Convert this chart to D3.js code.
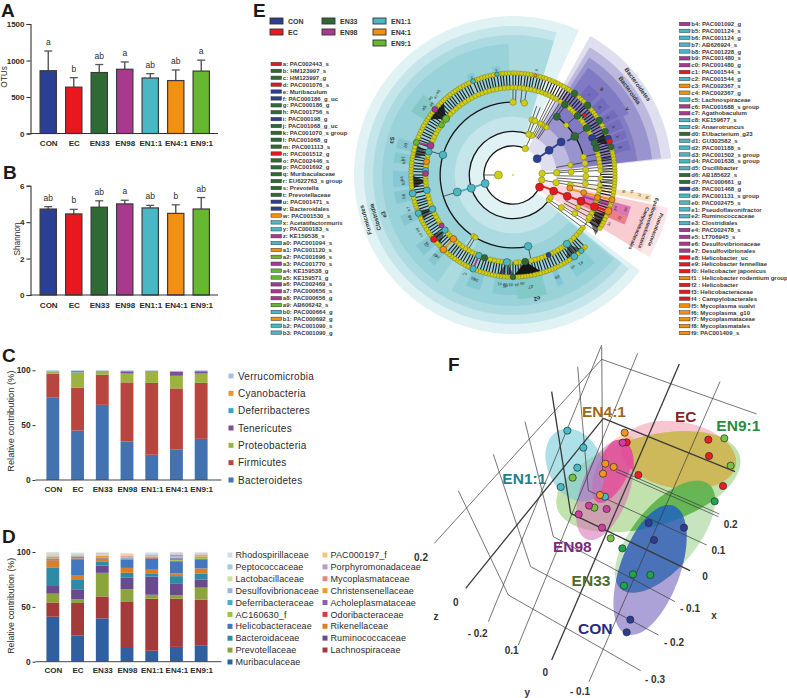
<!DOCTYPE html>
<html><head><meta charset="utf-8">
<script src="https://d3js.org/d3.v7.min.js"></script>
<style>html,body{margin:0;background:#fff}svg{display:block}text{font-family:"Liberation Sans",Arial,sans-serif;fill:#2b2b2b}</style>
</head><body><svg id="c" width="787" height="698"></svg>
<script>
// ---------- shared
const groups=["CON","EC","EN33","EN98","EN1:1","EN4:1","EN9:1"];
const groupColors=["#2b3f94","#e8181c","#2e6b34","#a8398f","#4ab8c4","#f4900f","#66b82e"];
// ---------- A, B
const otus=[860,635,835,880,760,725,855];
const otusErr=[1130,765,945,980,820,870,1005];
const otusLetters=["a","b","ab","a","ab","ab","a"];
const otusTicks=[0,500,1000,1500];
const shannon=[4.72,4.45,4.82,5.0,4.78,4.48,4.72];
const shannonErr=[4.85,4.7,5.17,5.2,4.92,4.95,5.35];
const shannonLetters=["ab","b","ab","a","ab","b","ab"];
const shannonTicks=[0,2,4,6];
// ---------- C
const phyla=["Bacteroidetes","Firmicutes","Proteobacteria","Tenericutes","Deferribacteres","Cyanobacteria","Verrucomicrobia"];
const phylaColors=["#4272b0","#b9453f","#9cb33f","#7d4e9f","#35a5c4","#ea9532","#a9c0e5"];
const phylaCON=[75,22,1.5,.3,.2,.1,.9];
const phylaEC=[45,39,14,.2,1.3,.1,.4];
const phylaEN33=[68.5,27.5,2.5,.5,.2,.1,.7];
const phylaEN98=[35,54,8,2,.5,.1,.4];
const phylaEN11=[23,65.5,10,.3,.7,.1,.4];
const phylaEN41=[28,55.5,11.5,3.5,.5,.1,.4];
const phylaEN91=[37.5,51,8.5,1.5,1,.1,.4];
const phylaRows=[phylaCON,phylaEC,phylaEN33,phylaEN98,phylaEN11,phylaEN41,phylaEN91];
// ---------- D
const families=["Muribaculaceae","Lachnospiraceae","Prevotellaceae","Ruminococcaceae","Bacteroidaceae","Rikenellaceae","Helicobacteraceae","Odoribacteraceae","AC160630_f","Acholeplasmataceae","Deferribacteraceae","Christensenellaceae","Desulfovibrionaceae","Mycoplasmataceae","Lactobacillaceae","Porphyromonadaceae","Peptococcaceae","PAC000197_f","Rhodospirillaceae"];
const familyColors=["#2f5f9f","#a53a3a","#8ba53c","#6a4a8f","#2e8ba5","#d97f29","#4377bf","#cc4040","#9ac33f","#8a5fb5","#3fb0cc","#ee9a2e","#9ab5dd","#e08a85","#cfe09a","#b89bd0","#97cfdf","#f5c27f","#d0dbec"];
const famCON=[41,13,8,7,17,6.5,.8,.3,.2,.3,.2,1.5,.3,.2,1.6,.2,.4,.5,.8];
const famEC=[24,29.5,3.5,8.5,9,4.5,14,1,.2,.3,1.5,.3,.3,.2,.2,.3,.5,.3,1.3];
const famEN33=[39.5,20,21.5,6.5,4,2.3,.4,.4,.2,.3,.3,1,.3,.3,.5,.2,.4,1.2,.4];
const famEN98=[12.5,42.5,11,10.5,4.5,4.5,7.5,.5,.3,.4,.4,.6,.5,.8,.3,.2,.6,.7,.6];
const famEN11=[10,47.5,3.5,16.5,2.5,4.5,9.5,.5,.2,.4,.5,.5,.8,.4,.2,.2,.6,.5,.8];
const famEN41=[13.5,44,3,11,6.5,2.5,11,.6,.8,1.4,.3,.6,1,1.5,.3,.2,.5,.3,.9];
const famEN91=[15,41.5,11,7.5,5.5,4.5,8,.7,.9,.5,.5,.6,.4,1,.3,.2,.5,.6,.6];
const famRows=[famCON,famEC,famEN33,famEN98,famEN11,famEN41,famEN91];
const legendD1=["Rhodospirillaceae","Peptococcaceae","Lactobacillaceae","Desulfovibrionaceae","Deferribacteraceae","AC160630_f","Helicobacteraceae","Bacteroidaceae","Prevotellaceae","Muribaculaceae"];
const legendD2=["PAC000197_f","Porphyromonadaceae","Mycoplasmataceae","Christensenellaceae","Acholeplasmataceae","Odoribacteraceae","Rikenellaceae","Ruminococcaceae","Lachnospiraceae"];
// ---------- E legend
const cladeLeft=[["a: PAC002443_s",1],["b: HM123997_s",2],["c: HM123997_g",2],["d: PAC001076_s",1],["e: Muribaculum",0],["f: PAC000186_g_uc",0],["g: PAC000186_g",2],["h: PAC001756_s",2],["i: PAC000198_g",0],["j: PAC001068_g_uc",2],["k: PAC001070_s group",2],["l: PAC001068_g",2],["m: PAC001113_s",2],["n: PAC001512_g",1],["o: PAC002446_s",2],["p: PAC001692_g",2],["q: Muribaculaceae",2],["r: EU622763_s group",2],["s: Prevotella",2],["t: Prevotellaceae",2],["u: PAC001471_s",0],["v: Bacteroidales",0],["w: PAC001530_s",5],["x: Acetatifactormuris",4],["y: PAC000183_s",4],["z: KE159538_s",3],["a0: PAC001094_s",4],["a1: PAC001120_s",5],["a2: PAC001696_s",6],["a3: PAC001770_s",3],["a4: KE159538_g",6],["a5: KE159571_g",6],["a6: PAC002469_s",3],["a7: PAC000656_s",3],["a8: PAC000656_g",3],["a9: AB606242_s",6],["b0: PAC000664_g",4],["b1: PAC000692_g",5],["b2: PAC001090_s",4],["b3: PAC001090_g",4]];
const cladeRight=[["b4: PAC001092_g",3],["b5: PAC001124_s",4],["b6: PAC001124_g",4],["b7: AB626924_s",4],["b8: PAC001228_g",4],["b9: PAC001480_s",3],["c0: PAC001480_g",3],["c1: PAC001544_s",1],["c2: PAC001544_g",4],["c3: PAC002367_s",5],["c4: PAC002367_g",5],["c5: Lachnospiraceae",4],["c6: PAC001688_s group",3],["c7: Agathobaculum",3],["c8: KE159677_s",4],["c9: Anaerotruncus",4],["d0: EUbacterium_g23",2],["d1: GU302582_s",4],["d2: PAC001188_s",4],["d3: PAC001502_s group",4],["d4: PAC001638_s group",4],["d5: Oscillibacter",4],["d6: AB185622_s",2],["d7: PAC000661_g",2],["d8: PAC001468_g",0],["d9: PAC001131_s group",4],["e0: PAC002475_s",4],["e1: Pseudoflavonifractor",4],["e2: Ruminococcaceae",4],["e3: Clostridiales",4],["e4: PAC002478_s",3],["e5: LT706945_s",3],["e6: Desulfovibrionaceae",3],["e7: Desulfovibrionales",3],["e8: Helicobacter_uc",1],["e9: Helicobacter fennelliae",1],["f0: Helicobacter japonicus",1],["f1 : Helicobacter rodentium group",5],["f2 : Helicobacter",1],["f3: Helicobacteraceae",1],["f4 : Campylobacterales",1],["f5: Mycoplasma sualvi",5],["f6: Mycoplasma_g10",5],["f7: Mycoplasmataceae",5],["f8: Mycoplasmatales",5],["f9: PAC001409_s",5]];
// ---------- E cladogram: [start angle, end angle, inner level, outer radius, colour, opacity]
const wedges=[
[127,384.5,2,159,"#35a7b5",.15],[129,377,3,149,"#35a7b5",.17],[129,377,4,140,"#35a7b5",.17],[215,358,5,131,"#35a7b5",.16],[130,208,5,131,"#35a7b5",.16],
[29,84,2,159,"#4a3fa8",.17],[31,83.5,3,149,"#4a3fa8",.24],[33,83.5,4,140,"#4a3fa8",.3],[35,62,5,131,"#4a3fa8",.3],[62,83.5,5,125,"#4a3fa8",.28],
[102,121,2,159,"#f0808f",.2],[102,121,3,149,"#f0808f",.16],[102,121,4,140,"#f0808f",.12],[98,101,4,140,"#f5b65a",.4],[105,110,5,122,"#c72f9c",.55],[110,114,5,122,"#e83040",.5]];
// [start angle, end angle, inner radius, outer radius, colour, label]
const cells=[[302,312,103,120,"#3aa98f","a5"],[283,288,103,120,"#3a9fc0","b0"],[276,281,103,120,"#3fae9f","b1"],[264,272,103,120,"#4a9fd0","b4"],[256,262,103,120,"#3a9fb5","b6"],[245,250,103,120,"#3a9fb5","b8"],[228,234,103,120,"#3a9fb5","c2"],[221,225,103,120,"#3a9fb5","c4"],[196,203,103,120,"#3aa9b5","d8"],[178,190,103,120,"#3ab0bb","d5"],[164,178,103,124,"#2fae8f","d7"],[155,158,103,120,"#2f9fd0","d9"],[137,148,103,120,"#3ab0bb","e1"],[335,339,103,110,"#3aa9c0","y"],[349,353,103,110,"#3aa9c0","x"],
[40,47,103,118,"#3f3fb0","r"],[49,55,103,118,"#3f3fb0","q"],[57,61,103,120,"#3f3fb0","p"],[62,67,103,120,"#3f3fb0","k"],[68,72,103,120,"#3f3fb0","h"],[73,78,103,120,"#3f3fb0","g"]];
// wedge captions: [text, angle, radius, font size]
const wedgeCaptions=[["Bacteroidetes",54,154,6],["Bacteroidia",54,144,6],["v",60,132,6],["s",46,124,6],["Firmicutes",253,154,6],["Clostridia",253,144,6],["e3",253,135,6],["c5",286,126,6],["e2",169,126,6],["Proteobacteria",111,153,5],["Epsilonproteobacteria",109.5,144,5],["Campylobacterales",113,137,5]];
// tiny leaf captions near the outer ring
const leafCaptions=[["a6",313,113],["a7",315.5,110],["a8",318,112],["a9",311,108],["b2",277,110],["b3",266,110],["b7",252,110],["b9",240,110],["c0",237,110],["c1",231.5,110],["c3",224,112],["c7",206,110],["c8",201,111],["d1",187,110],["d2",184,110],["d3",181,110],["d4",178,110],["d6",175,109],["e0",147,110],["f5",98,120],["f6",98.5,112],["f7",99,128],["f8",99.5,136],["e4",108,108],["e6",107,118],["c6",117,108],["f2",112,115],["w",12.7,108]];
const outerDotAngles=[31.5,33.2,35,37,38.6,40.5,42.2,44,45.8,47,49,50.6,52.3,54,55.7,57.7,59.4,61,63,64.7,66.4,68.9,70.6,72.4,74,75.8,77.5,79.2,81,82.8,84.4,86.2,88,89.6,91.4,93,94.8,96.5,98.2,100,101.8,104,105.8,107.6,109.2,110.7,112.5,114.2,116,118,119.6,121.5,135,136.8,138.4,140.3,143,145,146.7,148.6,150.2,152,154,155.8,157.6,159.4,161,163,164.6,166.4,168,170,171.8,173.4,175,176.8,178.4,180,181.8,183.4,185.2,187,188.6,190.4,192,194,195.6,197.4,199,201,203,204.8,206.4,208.2,210,211.6,213.4,215,217,218.6,220.4,223,224.8,226.6,228.2,231,232.8,234.6,236.2,238,240,241.6,243.4,245,246.8,248,250,251.8,253.4,255,257,259.6,261.4,263.2,265,266.6,268.4,270,272,273.6,275.4,277,279,280.6,282.4,284,286,288.6,290.4,292,294,295.6,297.4,299,301,302.8,304.4,306.2,308,310,311.8,313.4,315.2,317,318.6,320.4,322,324,325.6,327.4,329,331,332.8,334.4,337,338.8,340.4,342.2,344,345.6,347.4,349,351,352.8,354.4,356.2,358,360,361.6,363.4,365,367,368.6,370.4,372,374,375.6,377.4,379,381,382.8,384.6,386.2,388,389.8];
const innerDotAngles=[33,35.5,38,40.5,43,45,50,52.5,55,60,62.5,67,70,74.5,77,79.5,82,84.5,87,92,96.5,100,103,106.5,109,113.5,116,118.5,121,127,129,131,133.5,136,139,144.5,147,149.5,152,154,158.5,161,163.5,165.5,168,176,178,182,186,188,190,192.5,195,201,205.5,208,210.5,213,215.5,218,220.5,226,228.5,236.5,239,241.5,244,249.5,252,254.5,257,263,265.5,267.5,269,275,276,281,283,291,293.5,296,298.5,301,303,307,312,314.5,317,319.5,322,324.5,327,329.5,332,334.5,337,339.5,342,344.5,347,349.5,352,354.5,357,359.5,362,364.5,367,369.5,372,374.5,377,379.5,382,384.5,387,389.5];
// tree arcs: [start angle, end angle, level]
const treeArcs=[[114,385,2],[127,381,3],[168,360,5],[37,76,5]];
// extra branches: [angle A, level A, angle B, level B]
const branches=[[270,1,270,2],[253,2,253,4],[253,4,253,5],[25,2,25,3],[22,3,22,5],[19,3,19,5],[360,5,360,6],[9,5,9,6],[2,5,2,6],[6,5,6,6],[87,2,87,7],[100,2,100,7],[80,3,80,7],[85,3,85,7],[91,3,91,7],[94,3,94,7],[97,3,97,7],[75.6,5,76,7],[124,3,124,7],[127,3,127,6],[122,4,122,7],[119,4,119,7],[116,4,116,7],[58,5,58,7],[47,6,47,7],[37,5,37,7],[47,5,47,6],[168,5,168,6],[213,5,213,6],[211,5,211,6],[286,5,286,6],[142,6,142,7],[203,6,203,7],[231,6,231,7],[223,6,223,7],[247,6,247,7],[260,6,260,7],[35,3,35,7],[33,3,33,7],[30,3,30,6],[28,3,28,6],[26,3,26,6]];
// [node angle, first leaf angle, last leaf angle, opacity]
const fans=[[172,163,180,1],[310,303,317,.9],[284,279,288,.6],[266,262,270,.8],[247,243,250,.6],[231,226,234,.6],[184,179,189,.6],[142,137,148,.6],[68,65,73,.8],[115,112,122,.7],[120,116,126,.6]];
// coloured nodes [angle, level, group, size]
const chainNodes=[[56,2,0,4],[55.7,3,0,4],[55.6,4,0,4],[58,5,2,4],[37,5,2,3.6],[57.5,6,2,3.6],[57.7,7,2,3.4],[64.7,7,2,3.2],[64.8,6,0,3.6],[68.9,7,0,3.2],[68.6,6,2,3.4],[72.3,6,2,3.4],[71,7,1,3],[74,7,2,3],[36.4,6,2,3.4],[37,7,2,3.4],[47,7,2,3.4],[47.5,6,2,3.4],[50,6.4,1,2],
[114.5,2,1,4],[111.6,3,1,4],[111.4,4,1,4],[111,5,1,4],[111.3,6,1,4],[110.7,7,5,3.6],[103,4,5,3],[104,5,5,3],[105,6,5,3],[104,7,5,3],
[253,2,4,4],[252.5,3,4,4],[253,4,4,4],[286,5,4,3.8],[289.6,6,3,3.4],[285.4,6,4,3.4],[288.6,7,6,3],[310,6,6,3.6],[305,6,6,3],[310,7,3,3],[278.7,6,5,3],[273,6,4,3],[271,6,3,3],[260,6,4,3.4],[259.6,7,4,3.4],[247,6,4,3.4],[248,7,4,3.2],[231,6,4,3.2],[231,7,1,3.2],[223,6,5,3.4],[223,7,5,3.4],[234.8,6,3,2.6],[203,6,4,3.2],[203,7,4,3.2],[199,6,2,3.2],[184,6,4,3.6],[180,7,2,2.8],[172,6,2,3.4],[156,6,0,2.6],[142,6,4,3.6],[143,7,4,3.4],[138,7,4,2.6],[168,5,4,3.8],[337,7,4,2.4],[351,7,4,2.2],[12.7,7,5,1.6]];
// yellow nodes on the trunk [angle, level, size]
const trunkNodes=[[270,1,4],[25,2,3.2],[87,2,3.2],[100,2,3.2],[25,3,3.2],[21,3,3],[87,3,3.2],[100,3,3.2],[19,4,3],[22,4,3],[87,4,3],[100,4,3],[75.6,5,3],[80.7,5,3],[86,5,3],[91,5,3],[96.7,5,3],[360,5,3.2],[9,5,3.2],[213,5,2.6],[211,5,2.6],[124,3,3],[121,3,2.8],[124,4,3],[122,5,3],[119,6,3],[80,4,2.6],[116,5,2.6],[47,5,2.6],[33,4,2.6],[35,4,2.6],[30,4,2.6],[28,4,2.6]];
const colouredLinks=[[56,2,55.6,4,0],[58,4.4,58,5,0],[253,2,253,4,4],[289.6,6,288.6,7,3],[231,6,234.8,6,4],[223,6,223,7,5],[203,6,203,7,3],[104,4,104,7,5],[111,2,111,7,1],[107,5,107,7,3],[272,6,270,6,4],[184,6,184,7,4]];
const topGroupPos=[[0,0],[0,1],[1,0],[1,1],[2,0],[2,1],[2,2]];
const topGroupOrder=[0,1,2,3,4,5,6];
// ---------- F: picture-plane coordinates of the oblique PCoA box
const gridLines=[[692,992,295,765,1],[745,885,362,680,1],[795,785,430,590,1],[840,692,482,520,2],[890,615,535,452,1],[925,530,618,395,1],[928,522,622,388,1],[975,395,580,235,2],[1040,222,575,58,1],[537,1025,930,125,1],[425,960,808,72,2],[325,915,683,40,1],[235,845,575,15,1],[73,610,575,58,1],[167,745,580,235,2],[295,765,145,452,1],[362,680,250,343,1],[430,590,345,245,1],[482,520,425,155,2],[535,452,503,80,1],[578,390,575,20,1]];
const gridLabels=[["0.2",33,651],["0",137,788],["z",78,828],["- 0.2",203,880],["0.1",305,930],["0",406,998],["y",352,1057],["- 0.1",510,1055],["- 0.3",735,1018],["- 0.2",792,908],["- 0.1",840,805],["x",912,825],["0",885,708],["0.1",925,630],["0.2",962,552]];
// [key, cx, cy, semi-major, semi-minor, rotation, colour, opacity]
const ellipses=[["EN9",715,425,285,135,-16,"#8ecb6a",.55],["EN33",765,590,205,95,-50,"#8ecb7e",.5],["CON",720,690,205,90,-70,"#7464bc",.6],["EN11",495,375,115,82,65,"#78ccd8",.6],["EC",805,345,175,100,10,"#ee8098",.45],["EN41",610,385,112,48,-65,"#f0b050",.4],["EN98",585,450,158,72,-70,"#d86bb4",.55]];
// overlap tints: [list of ellipses that must overlap, colour, opacity]
const overlaps=[[["EN9","EC"],"#cdb95a",1],[["EN9","EN33"],"#5fb24e",.9],[["EN33","CON"],"#4570b8",.95],[["EN9","CON"],"#4a86b8",.9],[["EN9","EN33","CON"],"#2a70ae",1],[["EC","EN98"],"#e34a9c",.85],[["EN41","EN98"],"#e0509e",.85],[["EN11","EN98"],"#a88bc8",.7]];
const scoresCON=[[716,549],[822,563],[732,600],[661,839],[650,877]];
const scoresEC=[[650,307],[895,299],[897,348],[685,405],[939,438]];
const scoresEN33=[[914,484],[637,625],[669,703],[721,705],[642,737]];
const scoresEN98=[[638,308],[537,497],[590,507],[506,523],[576,563]];
const scoresEN11=[[472,272],[520,323],[502,383],[452,441],[585,470]];
const scoresEN41=[[644,278],[586,371],[611,381],[579,401],[570,465]];
const scoresEN91=[[943,295],[962,377],[488,413],[553,503],[602,595]];
const scoreSets=[scoresEN91,scoresEN33,scoresCON,scoresEN11,scoresEC,scoresEN98,scoresEN41];
const scoreColors=["#79c142","#1fa64a","#2d3c96","#46bcc8","#ee1c25","#cc3fa0","#f7941d"];
const pcoaLabels=[["EN4:1",582,230,"#9a6a1a"],["EC",827,246,"#8b1f2a"],["EN9:1",985,274,"#2e8b3d"],["EN1:1",343,431,"#1f7f8c"],["EN98",487,636,"#7b2a7b"],["EN33",543,738,"#4f6a2e"],["CON",556,881,"#2a2a80"]];
const panelLetters=[["A",1,17],["B",3,179],["C",2,362],["D",2,543],["E",253,17],["F",448,371]];

// ================= drawing
const svg=d3.select("#c");
panelLetters.forEach(d=>svg.append("text").attr("x",d[1]).attr("y",d[2]).attr("font-size",19).attr("font-weight","bold").style("fill","#1a1a1a").text(d[0]));

function barPanel(vals,errs,letters,ticks,maxV,y0,y1,label,labelX,labelY){
  const x=d3.scaleBand().domain(groups).range([35,214.5]).paddingInner(.36).paddingOuter(.2);
  const y=d3.scaleLinear([0,maxV],[y0,y1]);
  const g=svg.append("g");
  g.selectAll("line.e").data(groups).join("line").attr("x1",d=>x(d)+x.bandwidth()/2).attr("x2",d=>x(d)+x.bandwidth()/2)
   .attr("y1",(d,i)=>y(vals[i])).attr("y2",(d,i)=>y(errs[i])).attr("stroke","#555").attr("stroke-width",1.4);
  g.selectAll("line.c").data(groups).join("line").attr("class","c").attr("x1",d=>x(d)+x.bandwidth()/2-4).attr("x2",d=>x(d)+x.bandwidth()/2+4)
   .attr("y1",(d,i)=>y(errs[i])).attr("y2",(d,i)=>y(errs[i])).attr("stroke","#555").attr("stroke-width",1.3);
  g.selectAll("rect").data(groups).join("rect").attr("x",d=>x(d)).attr("width",x.bandwidth()).attr("y",(d,i)=>y(vals[i])).attr("height",(d,i)=>y0-y(vals[i]))
   .attr("fill",(d,i)=>groupColors[i]).attr("stroke","#3a3a3a").attr("stroke-width",1.2);
  g.selectAll("text.l").data(groups).join("text").attr("class","l").attr("x",d=>x(d)+x.bandwidth()/2).attr("y",(d,i)=>y(errs[i])-6).attr("text-anchor","middle").attr("font-size",8.5).text((d,i)=>letters[i]);
  const ay=d3.axisLeft(y).tickValues(ticks).tickSize(4).tickPadding(2).tickFormat(d3.format("d"));
  const a=g.append("g").attr("transform","translate(30.5,0)").call(ay);
  a.selectAll("text").attr("font-size",8).attr("font-weight","bold").attr("font-family","Liberation Sans");
  a.selectAll("path,line").attr("stroke","#333").attr("stroke-width",1.1);
  const ax=d3.axisBottom(d3.scalePoint().domain(groups).range([x(groups[0])+x.bandwidth()/2,x(groups[6])+x.bandwidth()/2])).tickSize(0).tickPadding(7);
  const b=g.append("g").attr("transform",`translate(0,${y0})`).call(ax);
  b.select("path").remove();
  b.selectAll("text").attr("font-size",8).attr("font-weight","bold").attr("font-family","Liberation Sans");
  g.append("line").attr("x1",30.5).attr("x2",218).attr("y1",y0).attr("y2",y0).attr("stroke","#333").attr("stroke-width",1.1);
  g.append("text").attr("transform",`translate(${labelX},${labelY}) rotate(-90)`).attr("text-anchor","middle").attr("font-size",8.3).text(label);
}
barPanel(otus,otusErr,otusLetters,otusTicks,1500,133.5,24,"OTUs",7,77);
barPanel(shannon,shannonErr,shannonLetters,shannonTicks,6,295,185.7,"Shannon",20,239);

function stackPanel(rows,keys,colors,y0,y1,ylabel,ylabelSize){
  const x=d3.scaleBand().domain(groups).range([39,215]).paddingInner(.48).paddingOuter(.3);
  const y=d3.scaleLinear([0,100],[y0,y1]);
  const table=groups.map((g,i)=>{const o={g};keys.forEach((k,j)=>o[k]=rows[i][j]);return o;});
  const series=d3.stack().keys(keys)(table);
  const g=svg.append("g");
  g.selectAll("g").data(series).join("g").attr("fill",(d,i)=>colors[i]).selectAll("rect").data(d=>d).join("rect")
   .attr("x",d=>x(d.data.g)).attr("width",x.bandwidth()).attr("y",d=>y(d[1])).attr("height",d=>y(d[0])-y(d[1]));
  const a=g.append("g").attr("transform","translate(35.5,0)").call(d3.axisLeft(y).tickValues([0,50,100]).tickSize(3).tickPadding(2));
  a.select("path").remove();
  a.selectAll("line").attr("stroke","#333");
  a.selectAll("text").attr("font-size",8.3).attr("font-weight","bold").attr("font-family","Liberation Sans");
  const b=g.append("g").attr("transform",`translate(0,${y0})`).call(d3.axisBottom(d3.scalePoint().domain(groups).range([x(groups[0])+x.bandwidth()/2,x(groups[6])+x.bandwidth()/2])).tickSize(0).tickPadding(6));
  b.select("path").remove();
  b.selectAll("text").attr("font-size",8).attr("font-weight","bold").attr("font-family","Liberation Sans");
  g.append("line").attr("x1",35.5).attr("x2",221.5).attr("y1",y0).attr("y2",y0).attr("stroke","#444").attr("stroke-width",1);
  g.append("text").attr("transform",`translate(14,${(y0+y1)/2+(ylabelSize>9?-4:-1)}) rotate(-90)`).attr("text-anchor","middle").attr("font-size",ylabelSize).text(ylabel);
}
stackPanel(phylaRows,phyla,phylaColors,480,370.3,"Relative contribution (%)",9.3);
stackPanel(famRows,families,familyColors,661.7,552,"Relative contribution (%)",8.8);

function legend(names,colors,x,ys,size,fs,ls,gap){
  const g=svg.append("g");
  g.selectAll("rect").data(names).join("rect").attr("x",x).attr("y",(d,i)=>ys(i)-size/2).attr("width",size).attr("height",size).attr("fill",colors);
  g.selectAll("text").data(names).join("text").attr("x",x+size+gap).attr("y",(d,i)=>ys(i)+fs*.35).attr("font-size",fs).attr("letter-spacing",ls).text(d=>d);
}
legend([...phyla].reverse(),d=>phylaColors[phyla.indexOf(d)],228.5,d3.scaleLinear([0,6],[376,480]),5,10,.25,4.5);
legend(legendD1,d=>familyColors[families.indexOf(d)],227.5,d3.scaleLinear([0,9],[555,662]),5,9,.1,3);
legend(legendD2,d=>familyColors[families.indexOf(d)],322.5,d3.scaleLinear([0,8],[555,650]),5,9,.1,3);

// ---- E legends
const E=svg.append("g");
const colX=d3.scaleOrdinal([0,1,2],[270,322,373]), rowY=d3.scaleLinear([0,2],[21,43]);
topGroupOrder.forEach((k,i)=>{const [c,r]=topGroupPos[i];
  E.append("rect").attr("x",colX(c)).attr("y",rowY(r)-3).attr("width",13).attr("height",6).attr("fill",groupColors[k]).attr("stroke","#333").attr("stroke-width",.9);
  E.append("text").attr("x",colX(c)+18).attr("y",rowY(r)+2.6).attr("font-size",7).attr("font-weight","bold").style("fill","#333").text(groups[k]);
});
function cladeList(list,swX,yTop,yBottom){
  const y=d3.scaleLinear([0,list.length-1],[yTop,yBottom]);
  const g=E.append("g");
  g.selectAll("rect").data(list).join("rect").attr("x",swX).attr("y",(d,i)=>y(i)-1.7).attr("width",10.5).attr("height",3.4).attr("fill",d=>groupColors[d[1]]).attr("stroke","#333").attr("stroke-width",.5);
  g.selectAll("text").data(list).join("text").attr("x",swX+11.8).attr("y",(d,i)=>y(i)+2.1).attr("font-size",6).attr("font-weight","bold").style("fill","#3a3a3a").text(d=>d[0]);
}
cladeList(cladeLeft,271,64,332.6);
cladeList(cladeRight,679.5,24,333);

// ---- E cladogram
const clado=svg.append("g").attr("transform","translate(513,175)");
const rad=d3.scaleLinear([0,7],[0,102]);
const ang=d3.scaleLinear([0,360],[0,2*Math.PI]);
const pol=(a,r)=>[r*Math.sin(ang(a)),-r*Math.cos(ang(a))];
const arc=d3.arc();
clado.selectAll("path.w").data(wedges).join("path").attr("d",d=>arc({startAngle:ang(d[0]),endAngle:ang(d[1]),innerRadius:rad(d[2]),outerRadius:d[3]})).attr("fill",d=>d[4]).attr("opacity",d=>d[5]);
clado.selectAll("path.c").data(cells).join("path").attr("class","c").attr("d",d=>arc({startAngle:ang(d[0]),endAngle:ang(d[1]),innerRadius:d[2],outerRadius:d[3]})).attr("fill",d=>d[4]).attr("opacity",.22);
clado.selectAll("path.a").data(treeArcs).join("path").attr("class","a").attr("d",d=>arc({startAngle:ang(d[0]),endAngle:ang(d[1]),innerRadius:rad(d[2])-.65,outerRadius:rad(d[2])+.65})).attr("fill","#151515");
const seg=(sel,data,fn)=>sel.selectAll(null).data(data).join("line").each(function(d){const s=fn(d);d3.select(this).attr("x1",s[0][0]).attr("y1",s[0][1]).attr("x2",s[1][0]).attr("y2",s[1][1]);});
seg(clado.append("g").attr("stroke","#222").attr("stroke-width",.7),branches,d=>[pol(d[0],rad(d[1])),pol(d[2],rad(d[3]))]);
seg(clado.append("g").attr("stroke","#1c1c1c").attr("stroke-width",1.1),outerDotAngles,a=>[pol(a,rad(6)),pol(a,rad(7))]);
clado.append("g").selectAll("path").data(fans).join("path").attr("d",d=>d3.line()([pol(d[0],rad(6)),pol(d[1],rad(7)),pol(d[2],rad(7))])+"Z").attr("fill","#141414").attr("opacity",d=>d[3]);
clado.append("path").attr("d",arc({startAngle:ang(28),endAngle:ang(392),innerRadius:rad(6)-.4,outerRadius:rad(6)+.4})).attr("fill","#333");
clado.append("g").selectAll("line").data(colouredLinks).join("line").each(function(d){const p=pol(d[0],rad(d[1])),q=pol(d[2],rad(d[3]));d3.select(this).attr("x1",p[0]).attr("y1",p[1]).attr("x2",q[0]).attr("y2",q[1]);}).attr("stroke",d=>groupColors[d[4]]).attr("stroke-width",1.8);
const yellow=(data,r,level)=>clado.append("g").selectAll("circle").data(data).join("circle").attr("cx",a=>pol(a,rad(level))[0]).attr("cy",a=>pol(a,rad(level))[1]).attr("r",r).attr("fill","#cfce14").attr("stroke","#75741a").attr("stroke-width",.45);
yellow(innerDotAngles,2.5,6);
yellow(outerDotAngles,2.3,7);
clado.append("g").selectAll("circle").data(trunkNodes).join("circle").attr("cx",d=>pol(d[0],rad(d[1]))[0]).attr("cy",d=>pol(d[0],rad(d[1]))[1]).attr("r",d=>d[2]).attr("fill","#cfce14").attr("stroke","#777718").attr("stroke-width",.5);
clado.append("circle").attr("r",.9).attr("fill","#d2d114");
clado.append("g").selectAll("circle").data(chainNodes).join("circle").attr("cx",d=>pol(d[0],rad(d[1]))[0]).attr("cy",d=>pol(d[0],rad(d[1]))[1]).attr("r",d=>d[3]).attr("fill",d=>groupColors[d[2]]).attr("stroke","#2d3a3a").attr("stroke-width",.5);
clado.append("g").selectAll("text").data(wedgeCaptions).join("text").attr("transform",d=>{const p=pol(d[1],d[2]);return `translate(${p[0]},${p[1]}) rotate(${d[1]})`;}).attr("text-anchor","middle").attr("dy",2).attr("font-size",d=>d[3]).attr("font-weight","bold").style("fill","#333").text(d=>d[0]);
clado.append("g").selectAll("text").data(cells).join("text").attr("transform",d=>{const a=(d[0]+d[1])/2,p=pol(a,(d[2]+d[3])/2);return `translate(${p[0]},${p[1]}) rotate(${a})`;}).attr("text-anchor","middle").attr("dy",1.6).attr("font-size",4.5).style("fill","#333").text(d=>d[5]);
clado.append("g").selectAll("text").data(leafCaptions).join("text").attr("transform",d=>{const p=pol(d[1],d[2]);return `translate(${p[0]},${p[1]}) rotate(${d[1]})`;}).attr("text-anchor","middle").attr("dy",1.4).attr("font-size",4).style("fill","#333").text(d=>d[0]);

// ---- F
const F=svg.append("g");
const fx=d3.scaleLinear([0,1131],[410,787]), fy=d3.scaleLinear([0,1074],[340,698]);
const eTransform=d=>`translate(${fx(d[1])},${fy(d[2])}) rotate(${d[5]})`;
const defs=svg.append("defs");
const eByKey=new Map(ellipses.map(d=>[d[0],d]));
function addEllipse(sel,d){return sel.append("ellipse").attr("transform",eTransform(d)).attr("rx",d[3]/3).attr("ry",d[4]/3);}
ellipses.forEach(d=>addEllipse(defs.append("clipPath").attr("id","clip-"+d[0]),d));
ellipses.forEach(d=>addEllipse(F,d).attr("fill",d[6]).attr("opacity",d[7]));
function nest(keys,color,op){
  let g=F.append("g");
  keys.slice(0,-1).forEach(k=>{g=g.append("g").attr("clip-path",`url(#clip-${k})`);});
  addEllipse(g,eByKey.get(keys[keys.length-1])).attr("fill",color).attr("opacity",op);
}
overlaps.forEach(o=>nest(o[0],o[1],o[2]));
F.append("g").selectAll("line").data(gridLines).join("line").attr("x1",d=>fx(d[0])).attr("y1",d=>fy(d[1])).attr("x2",d=>fx(d[2])).attr("y2",d=>fy(d[3])).attr("stroke","#3a3a3a").attr("stroke-width",d=>d[4]==2?1.3:.7);
scoreSets.forEach((set,i)=>F.append("g").selectAll("circle").data(set).join("circle").attr("cx",d=>fx(d[0])).attr("cy",d=>fy(d[1])).attr("r",3.6).attr("fill",scoreColors[i]).attr("stroke","#2a2a2a").attr("stroke-width",.7));
F.append("g").selectAll("text").data(gridLabels).join("text").attr("x",d=>fx(d[1])).attr("y",d=>fy(d[2])+3.5).attr("text-anchor","middle").attr("font-size",10).attr("font-weight","bold").style("fill","#333").text(d=>d[0]);
F.append("g").selectAll("text").data(pcoaLabels).join("text").attr("x",d=>fx(d[1])).attr("y",d=>fy(d[2])).attr("text-anchor","middle").attr("font-size",15.5).attr("font-weight","bold").style("fill",d=>d[3]).text(d=>d[0]);
</script></body></html>
